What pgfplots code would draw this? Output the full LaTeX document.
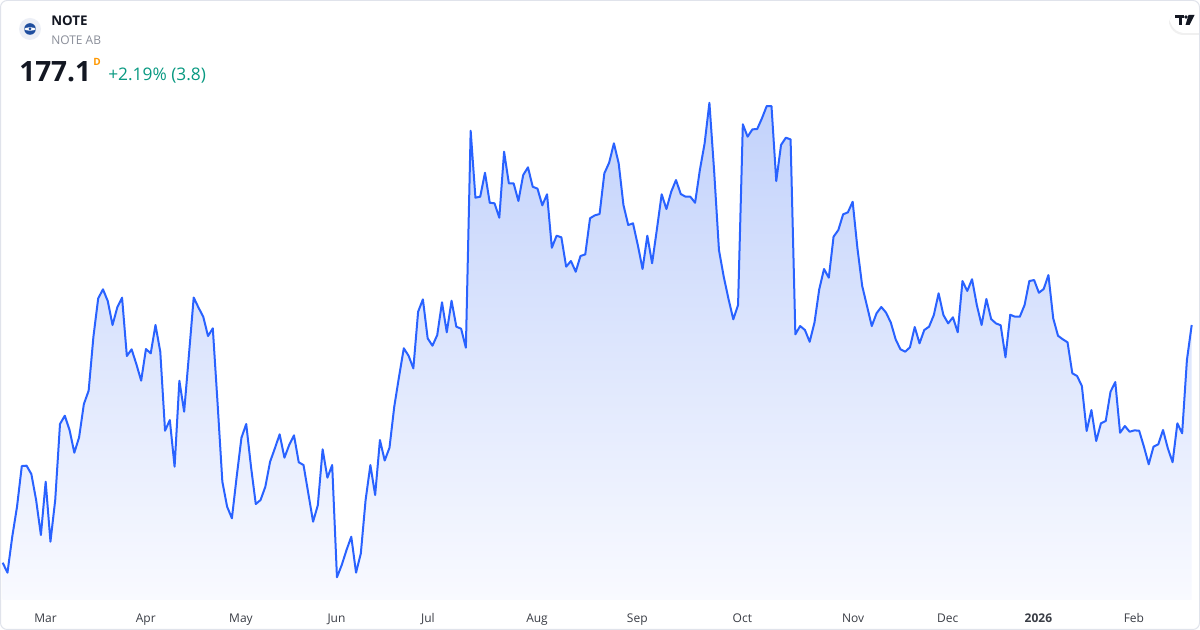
\documentclass[border=0pt]{standalone}
\usepackage{fontspec}
\setmainfont{Open Sans}
\usepackage{pgfplots}
\pgfplotsset{compat=1.18}
\usepackage{pgfplotstable}
\definecolor{tvblue}{HTML}{2962FF}
\definecolor{tvtext}{HTML}{131722}
\definecolor{tvgray}{HTML}{8A8E99}
\definecolor{tvlabel}{HTML}{3A3D45}
\definecolor{tvgreen}{HTML}{089981}
\definecolor{tvorange}{HTML}{FF9800}
\definecolor{tvborder}{HTML}{E0E3EB}
\definecolor{filltop}{RGB}{194,210,251}
\definecolor{fillbot}{RGB}{249,250,255}
\definecolor{logobg}{HTML}{ECEFF6}
\definecolor{logoblue}{HTML}{1F4E9E}

\pgfplotstableread{
i p
0 151.26
1 150.18
2 154.09
3 157.35
4 161.77
5 161.81
6 160.90
7 158.08
8 154.27
9 160.07
10 153.55
11 158.08
12 166.34
13 167.24
14 165.69
15 163.22
16 164.89
17 168.51
18 169.96
19 175.83
20 180.00
21 180.98
22 179.71
23 177.10
24 179.02
25 180.07
26 173.73
27 174.46
28 172.83
29 171.05
30 174.49
31 174.02
32 177.10
33 174.20
34 165.61
35 166.77
36 161.70
37 171.05
38 167.68
39 173.84
40 180.09
41 179.00
42 178.00
43 175.90
44 176.74
45 168.59
46 160.07
47 157.35
48 156.09
49 160.61
50 164.85
51 166.34
52 161.70
53 157.64
54 158.08
55 159.52
56 162.24
57 163.70
58 165.22
59 162.68
60 164.06
61 165.11
62 162.18
63 161.88
64 158.81
65 155.72
66 157.53
67 163.59
68 160.50
69 161.88
70 149.68
71 151.01
72 152.64
73 154.09
74 150.18
75 152.28
76 158.08
77 161.88
78 158.62
79 164.60
80 162.37
81 163.76
82 168.22
83 171.48
84 174.57
85 173.76
86 172.39
87 178.55
88 179.89
89 175.65
90 174.85
91 176.01
92 179.57
93 176.31
94 179.74
95 176.92
96 176.70
97 174.63
98 198.22
99 190.94
100 191.05
101 193.65
102 190.39
103 190.33
104 188.76
105 195.94
106 192.50
107 192.50
108 190.58
109 193.40
110 194.24
111 192.13
112 191.92
113 190.11
114 191.31
115 185.50
116 186.81
117 186.63
118 183.44
119 184.06
120 182.89
121 184.60
122 184.78
123 188.70
124 189.02
125 189.17
126 193.59
127 194.74
128 196.85
129 194.68
130 190.14
131 187.97
132 188.15
133 185.80
134 183.19
135 186.81
136 183.81
137 187.50
138 191.31
139 189.71
140 191.59
141 192.86
142 191.34
143 191.05
144 191.05
145 190.39
146 193.95
147 196.85
148 201.26
149 193.76
150 185.25
151 182.35
152 179.93
153 177.72
154 179.27
155 198.92
156 197.57
157 198.37
158 198.40
159 199.57
160 200.90
161 200.90
162 192.75
163 196.67
164 197.46
165 197.28
166 176.09
167 176.99
168 176.56
169 175.28
170 177.35
171 180.98
172 183.19
173 182.24
174 186.70
175 187.43
176 189.13
177 189.35
178 190.50
179 185.44
180 181.34
181 179.17
182 176.99
183 178.37
184 179.06
185 178.44
186 177.35
187 175.55
188 174.46
189 174.20
190 174.68
191 176.88
192 175.11
193 176.56
194 176.92
195 178.19
196 180.55
197 178.19
198 177.28
199 177.94
200 176.31
201 181.88
202 180.80
203 182.08
204 179.27
205 177.10
206 179.93
207 177.75
208 177.28
209 177.07
210 173.59
211 178.22
212 178.00
213 178.00
214 179.27
215 181.88
216 181.99
217 180.61
218 181.01
219 182.53
220 177.83
221 175.94
222 175.55
223 175.22
224 171.85
225 171.56
226 170.47
227 165.58
228 167.86
229 164.49
230 166.42
231 166.67
232 169.85
233 170.90
234 165.39
235 166.12
236 165.50
237 165.65
238 165.61
239 163.87
240 161.96
241 163.87
242 164.13
243 165.69
244 163.70
245 162.18
246 166.42
247 165.33
248 173.30
249 177.10
}\pricedata

\begin{document}
\begin{tikzpicture}
\useasboundingbox (0,0) rectangle (900pt,-472.5pt);
\fill[white] (0,0) rectangle (900pt,-472.5pt);
\begin{axis}[
  at={(0,0)}, anchor=north west,
  scale only axis, width=900pt, height=450pt,
  xmin=-0.565, xmax=250.74,
  ymin=147.21, ymax=212.43,
  axis line style={draw=none},
  ytick=\empty,
  xtick={8.96,29.97,49.9,69.9,89.05,111.9,132.9,154.9,178.1,197.9,216.9,236.9},
  xticklabels={Mar,Apr,May,Jun,Jul,Aug,Sep,Oct,Nov,Dec,\textbf{2026},Feb},
  major tick length=0pt,
  xticklabel style={font=\fontsize{9}{9}\selectfont, text=tvlabel, anchor=base, yshift=-17pt},
]
\addplot[draw=none, top color=filltop, bottom color=fillbot, forget plot] table[x=i,y=p]{\pricedata} -- (axis cs:249,147.21) -- (axis cs:0,147.21) -- cycle;
\addplot[tvblue, line width=1.5pt, line join=round, mark=none] table[x=i,y=p]{\pricedata};
\end{axis}
\begin{scope}[x=0.75pt,y=-0.75pt]
  % logo
  \fill[logobg] (30,29) circle (11);
  \fill[logoblue] (30,29) circle (5.8);
  \fill[white] (30,29) ellipse (5.8 and 1.6);
  \fill[logoblue] (30,29) circle (1.5);
  \node[anchor=base west, inner sep=0, font=\bfseries\fontsize{10}{12}\selectfont, text=tvtext] at (51,26) {NOTE};
  \node[anchor=base west, inner sep=0, font=\fontsize{9}{11}\selectfont, text=tvgray] at (51,45) {NOTE AB};
  \node[anchor=base west, inner sep=0, font=\bfseries\fontsize{21}{24}\selectfont, text=tvtext] at (19,82) {177.1};
  \node[anchor=base west, inner sep=0, font=\bfseries\fontsize{7.5}{9}\selectfont, text=tvorange] at (93,66) {D};
  \node[anchor=base west, inner sep=0, font=\fontsize{13}{15}\selectfont, text=tvgreen] at (108,80.5) {+2.19\% (3.8)};
  % TV pill
  \fill[black!6] (1169,10) [rounded corners=11] rectangle (1216,35);
  \fill[white] (1170,8.5) [rounded corners=11] rectangle (1216,33);
  \fill[tvtext] (1175,15) rectangle (1184,18.5);
  \fill[tvtext] (1178.5,15) rectangle (1182,25);
  \fill[tvtext] (1186,17) circle (1.9);
  \fill[tvtext] (1188.5,15) -- (1194.5,15) -- (1189.5,25) -- (1185.5,25) -- cycle;
  % border
  \draw[tvborder, line width=0.75pt, rounded corners=5] (0.5,0.5) rectangle (1199.5,629.5);
\end{scope}
\end{tikzpicture}
\end{document}
